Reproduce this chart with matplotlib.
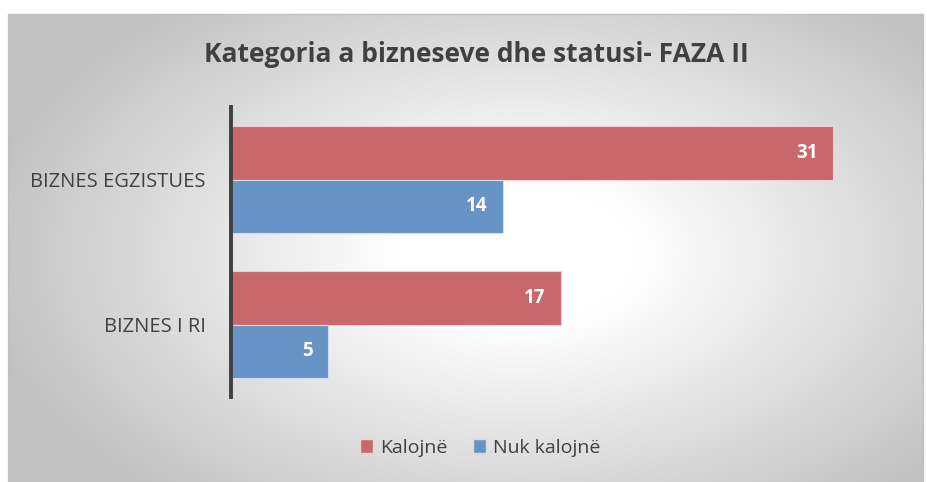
import numpy as np
import matplotlib.pyplot as plt
from matplotlib.patches import Patch

# data
categories = ["BIZNES EGZISTUES", "BIZNES I RI"]
kalojne = [31, 17]
nuk_kalojne = [14, 5]
series_names = ["Kalojnë", "Nuk kalojnë"]
title = "Kategoria a bizneseve dhe statusi- FAZA II"

RED = "#C8686A"
BLUE = "#6893C7"
TXT = "#404040"

plt.rcParams["font.family"] = ["Open Sans", "DejaVu Sans"]

W, H = 927, 482
fig = plt.figure(figsize=(W / 100, H / 100), dpi=100)
fig.patch.set_facecolor("white")

# radial gradient background of the chart area
bg = fig.add_axes([8 / W, 0, (923 - 8) / W, (H - 14) / H])
bg.set_axis_off()
yy, xx = np.mgrid[0:468, 0:915]
cx, cy = 510, 240
r = np.sqrt(((xx - cx) / 540) ** 2 + ((yy - cy) / 320) ** 2)
shade = 1.0 - 0.26 * np.clip(r - 0.22, 0, None) / 0.85
shade = np.clip(shade, 0.76, 1.0)
bg.imshow(np.dstack([shade] * 3), aspect="auto", interpolation="bilinear")
fig.patches.append(plt.Rectangle((8 / W, -0.01), (923 - 8) / W, (H - 14) / H + 0.01,
                                 transform=fig.transFigure, fill=False,
                                 edgecolor="#c0c0c0", linewidth=1))

# main axes: x from 231 px, y from 107 to 397 px
left, right = 231, 911
top, bottom = 107, 397
ax = fig.add_axes([left / W, 1 - bottom / H, (right - left) / W, (bottom - top) / H])
ax.set_facecolor("none")

y = np.arange(len(categories))
h = 0.372
ax.barh(y - h / 2, kalojne, height=h, color=RED, edgecolor="#f0d0d0", linewidth=0.8)
ax.barh(y + h / 2, nuk_kalojne, height=h, color=BLUE, edgecolor="#d0dcf0", linewidth=0.8)

for yi, v in zip(y - h / 2, kalojne):
    ax.text(v - 0.8, yi, str(v), color="white", fontweight="bold", fontsize=13.5,
            ha="right", va="center")
for yi, v in zip(y + h / 2, nuk_kalojne):
    ax.text(v - 0.8, yi, str(v), color="white", fontweight="bold", fontsize=13.5,
            ha="right", va="center")

ax.set_xlim(0, 35)
ax.set_ylim(1.5, -0.5)
ax.set_xticks([])
ax.set_yticks(y)
ax.set_yticklabels(categories, fontsize=14.5, color=TXT)
ax.tick_params(axis="y", length=0, pad=18)
for s in ["top", "right", "bottom"]:
    ax.spines[s].set_visible(False)
ax.spines["left"].set_color("#404040")
ax.spines["left"].set_linewidth(2.8)

fig.text(476 / W, 1 - 55 / H, title, ha="center", va="center",
         fontsize=19, fontweight="bold", color=TXT)

handles = [Patch(facecolor=RED, edgecolor="#f0d0d0"), Patch(facecolor=BLUE, edgecolor="#d0dcf0")]
fig.legend(handles, series_names, loc="center", bbox_to_anchor=(480 / W, 1 - 448 / H),
           ncol=2, frameon=False, fontsize=14, handlelength=0.7, handleheight=0.7,
           handletextpad=0.35, columnspacing=1.3, labelcolor=TXT)

fig.savefig("out.png", dpi=100)
